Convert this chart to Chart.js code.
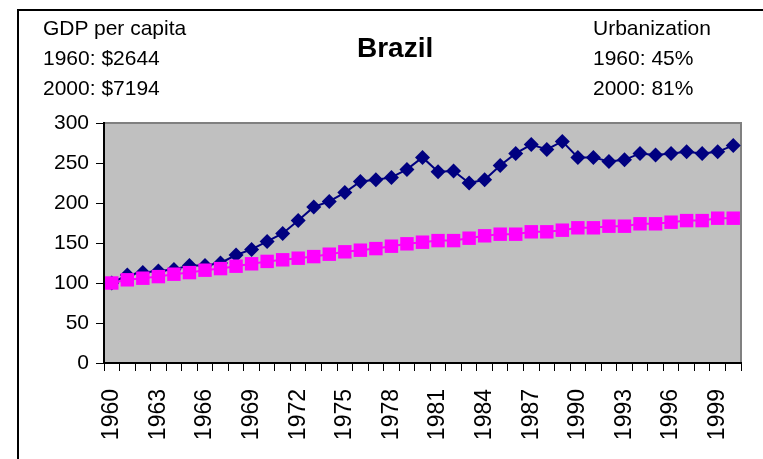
<!DOCTYPE html>
<html>
<head>
<meta charset="utf-8">
<script src="https://cdn.jsdelivr.net/npm/chart.js@4.4.1/dist/chart.umd.min.js"></script>
<style>
  html, body { margin: 0; padding: 0; width: 763px; height: 459px; overflow: hidden; background: #fff; }
  #frame { position: absolute; left: 17px; top: 9px; width: 900px; height: 600px; border-left: 2px solid #000; border-top: 2px solid #000; box-sizing: border-box; }
  canvas { position: absolute; left: 0; top: 0; }
  .t { position: absolute; font-family: "Liberation Sans", Arial, sans-serif; font-size: 21px; color: #000; white-space: nowrap; line-height: 1; }
  .b { font-weight: bold; font-size: 28px; }
</style>
</head>
<body>
<div id="frame"></div>
<canvas id="c" width="763" height="459"></canvas>
<div class="t" style="left:43px; top:17px;">GDP per capita</div>
<div class="t" style="left:43px; top:47px;">1960: $2644</div>
<div class="t" style="left:43px; top:77px;">2000: $7194</div>
<div class="t b" style="left:357px; top:34px;">Brazil</div>
<div class="t" style="left:593px; top:17px;">Urbanization</div>
<div class="t" style="left:593px; top:47px;">1960: 45%</div>
<div class="t" style="left:593px; top:77px;">2000: 81%</div>
<script>
const years = ["1960","1961","1962","1963","1964","1965","1966","1967","1968","1969",
               "1970","1971","1972","1973","1974","1975","1976","1977","1978","1979",
               "1980","1981","1982","1983","1984","1985","1986","1987","1988","1989",
               "1990","1991","1992","1993","1994","1995","1996","1997","1998","1999","2000"];
const gdpIndex = [100,110,113,115,117,122,122,125,135,142,
                  152,162,178,195,202,213,227,229,232,242,
                  257,239,240,225,229,247,262,273,267,277,
                  257,257,252,254,262,260,262,264,262,264,272];
const urbanIndex = [100,104,106,108,111,113,116,118,121,124,
                    127,129,131,133,136,139,141,143,146,149,
                    151,153,153,156,159,161,161,164,164,166,
                    169,169,171,171,174,174,176,178,178,181,181];
const yTicks = [0,50,100,150,200,250,300];

const FONT = "'Liberation Sans', Arial, sans-serif";

const plotBg = {
  id: 'plotBg',
  beforeDraw(chart) {
    const {ctx, chartArea: a} = chart;
    ctx.save();
    ctx.fillStyle = '#C0C0C0';
    ctx.fillRect(a.left, a.top, a.right - a.left, a.bottom - a.top);
    ctx.strokeStyle = '#808080';
    ctx.lineWidth = 2;
    ctx.beginPath();
    ctx.moveTo(a.left, a.top);
    ctx.lineTo(a.right, a.top);
    ctx.lineTo(a.right, a.bottom);
    ctx.stroke();
    ctx.restore();
  }
};

new Chart(document.getElementById('c'), {
  type: 'line',
  data: {
    labels: years,
    datasets: [
      {
        label: 'GDP per capita (1960=100)',
        data: gdpIndex,
        borderColor: '#000080',
        backgroundColor: '#000080',
        borderWidth: 2,
        pointStyle: 'rectRot',
        pointRadius: 7.5,
        pointBorderWidth: 0,
        tension: 0,
        order: 1
      },
      {
        label: 'Urbanization (1960=100)',
        data: urbanIndex,
        borderColor: '#FF00FF',
        backgroundColor: '#FF00FF',
        borderWidth: 2,
        pointStyle: 'rect',
        pointRadius: 9.5,
        pointBorderWidth: 0,
        tension: 0,
        order: 0
      }
    ]
  },
  options: {
    responsive: false,
    devicePixelRatio: 1,
    animation: false,
    clip: false,
    layout: { padding: { top: 123, right: 22, left: 0, bottom: 0 } },
    plugins: { legend: { display: false }, title: { display: false }, tooltip: { enabled: false } },
    scales: {
      x: {
        type: 'category',
        offset: true,
        grid: { offset: true, drawOnChartArea: false, drawTicks: true, tickLength: 8, color: '#000', lineWidth: 1 },
        border: { display: true, color: '#000', width: 2 },
        ticks: {
          autoSkip: false,
          minRotation: 90,
          maxRotation: 90,
          padding: 18,
          color: '#000',
          font: { family: FONT, size: 23 },
          callback: function(v, i) { return i % 3 === 0 ? years[i] : ''; }
        },
        afterFit(scale) { scale.height = 96; scale.paddingLeft = 0; scale.paddingRight = 0; }
      },
      y: {
        min: 0,
        max: 300,
        afterBuildTicks(scale) { scale.ticks = yTicks.map(v => ({ value: v })); },
        grid: { drawOnChartArea: false, drawTicks: true, tickLength: 8, color: '#000', lineWidth: 1 },
        border: { display: true, color: '#000', width: 2 },
        ticks: {
          padding: 7,
          color: '#000',
          font: { family: FONT, size: 21 }
        },
        afterFit(scale) { scale.width = 104; scale.paddingTop = 0; scale.paddingBottom = 0; }
      }
    }
  },
  plugins: [plotBg]
});
</script>
</body>
</html>
